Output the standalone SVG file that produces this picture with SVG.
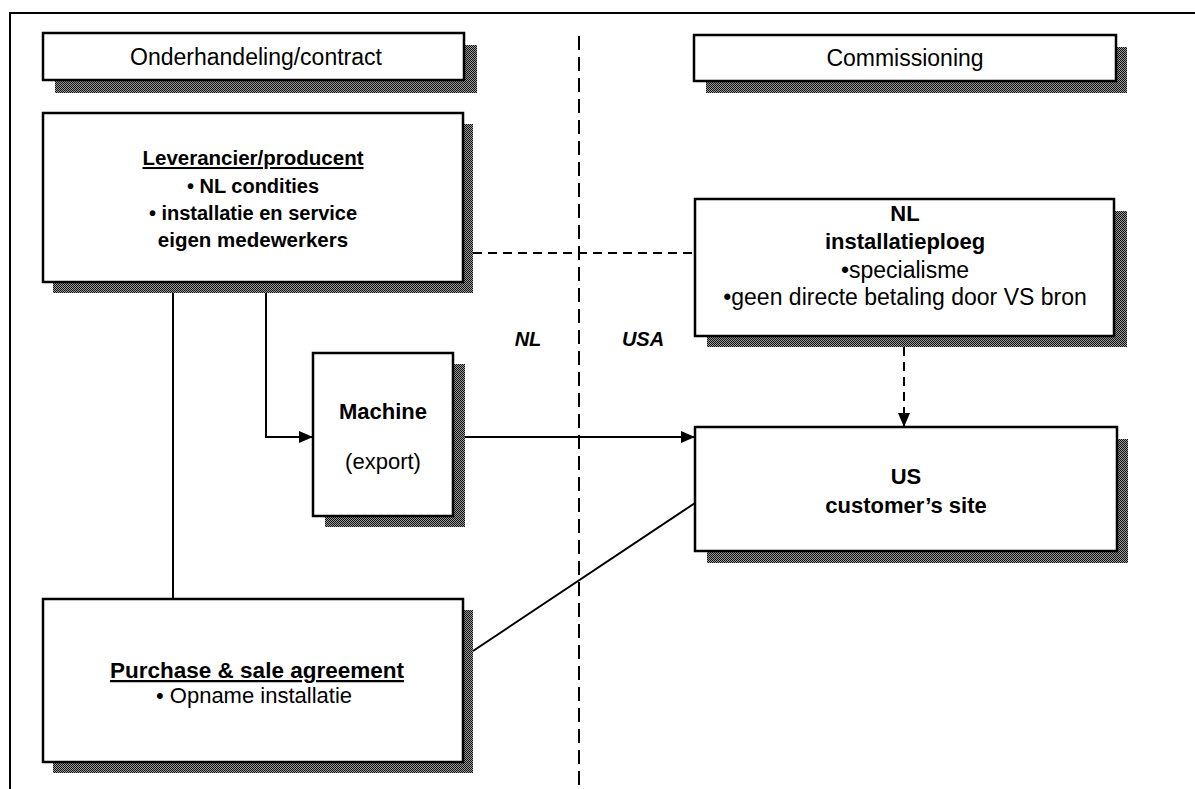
<svg xmlns="http://www.w3.org/2000/svg" width="1195" height="789" viewBox="0 0 1195 789">
<defs>
<pattern id="stip" width="2" height="2" patternUnits="userSpaceOnUse">
<rect width="2" height="2" fill="#9a9a9a"/>
<rect width="1" height="1" fill="#111"/>
<rect x="1" y="1" width="1" height="1" fill="#111"/>
</pattern>
<marker id="arr" viewBox="0 0 14 12" refX="14" refY="6" markerWidth="14" markerHeight="12" markerUnits="userSpaceOnUse" orient="auto">
<path d="M0,0 L14,6 L0,12 Z" fill="#000"/>
</marker>
</defs>
<style>
.box{fill:#fff;stroke:#000;stroke-width:2.5}
.sh{fill:url(#stip)}
.t{font-family:"Liberation Sans",Arial,sans-serif;fill:#000;text-anchor:middle}
.b{font-weight:bold}
.u{text-decoration:underline}
.ln{fill:none;stroke:#000;stroke-width:2}
.dl{fill:none;stroke:#000;stroke-width:2;stroke-dasharray:9 6}
.dv{fill:none;stroke:#000;stroke-width:2;stroke-dasharray:14 7}
</style>
<rect width="1195" height="789" fill="#fff"/>
<path class="ln" d="M10,789 L10,13 L1195,13"/>
<line class="dv" x1="579" y1="36" x2="579" y2="789"/>
<text class="t b" x="528" y="346" font-size="20" font-style="italic">NL</text>
<text class="t b" x="643" y="346" font-size="20" font-style="italic">USA</text>
<g id="connectors">
<line class="dl" x1="473" y1="253" x2="695" y2="253"/>
<line class="ln" x1="173" y1="293" x2="173" y2="599"/>
<path class="ln" d="M266,293 L266,437 L313,437" marker-end="url(#arr)"/>
<line class="ln" x1="465" y1="437" x2="695" y2="437" marker-end="url(#arr)"/>
<line class="dl" x1="904" y1="347" x2="904" y2="427" marker-end="url(#arr)"/>
<line class="ln" x1="473" y1="651" x2="695" y2="503"/>
</g>
<g id="hdr-left">
<rect class="sh" x="55" y="45" width="422" height="48"/>
<rect class="box" x="43" y="33" width="421" height="47"/>
<text class="t" x="256" y="65" font-size="23">Onderhandeling/contract</text>
</g>
<g id="hdr-right">
<rect class="sh" x="706" y="47" width="421" height="46"/>
<rect class="box" x="694" y="35" width="422" height="46"/>
<text class="t" x="905" y="66" font-size="23">Commissioning</text>
</g>
<g id="leverancier">
<rect class="sh" x="53" y="124" width="420" height="169"/>
<rect class="box" x="43" y="113" width="420" height="169"/>
<text class="t b u" x="253" y="165" font-size="20.5">Leverancier/producent</text>
<text class="t b" x="253" y="193" font-size="20">• NL condities</text>
<text class="t b" x="253" y="220" font-size="20">• installatie en service</text>
<text class="t b" x="253" y="247" font-size="20.5">eigen medewerkers</text>
</g>
<g id="installatieploeg">
<rect class="sh" x="707" y="211" width="420" height="136"/>
<rect class="box" x="695" y="199" width="419" height="137"/>
<text class="t b" x="905" y="221" font-size="22">NL</text>
<text class="t b" x="905" y="249" font-size="22">installatieploeg</text>
<text class="t" x="905" y="278" font-size="23">•specialisme</text>
<text class="t" x="905" y="305" font-size="23">•geen directe betaling door VS bron</text>
</g>
<g id="machine">
<rect class="sh" x="325" y="364" width="140" height="163"/>
<rect class="box" x="313" y="353" width="140" height="163"/>
<text class="t b" x="383" y="419" font-size="22">Machine</text>
<text class="t" x="383" y="469" font-size="22">(export)</text>
</g>
<g id="us-site">
<rect class="sh" x="707" y="439" width="421" height="124"/>
<rect class="box" x="695" y="427" width="422" height="124"/>
<text class="t b" x="906" y="484" font-size="22">US</text>
<text class="t b" x="906" y="513" font-size="22">customer’s site</text>
</g>
<g id="purchase">
<rect class="sh" x="53" y="610" width="420" height="163"/>
<rect class="box" x="43" y="599" width="420" height="163"/>
<text class="t b u" x="257" y="678" font-size="22.5">Purchase &amp; sale agreement</text>
<text class="t" x="254" y="703" font-size="22">•  Opname installatie</text>
</g>
</svg>
